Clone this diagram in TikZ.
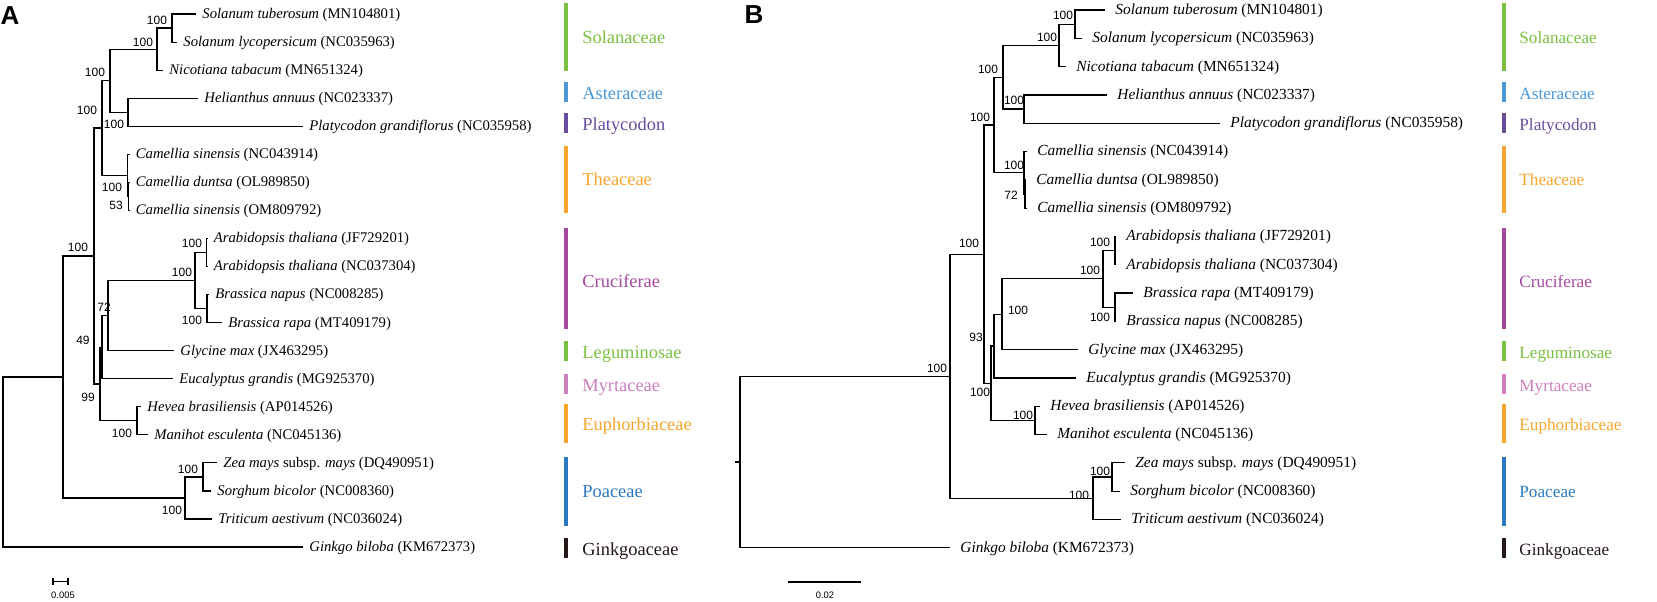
\documentclass[tikz,border=0pt]{standalone}
\usepackage{fontspec}
\setmainfont{Liberation Serif}
\setsansfont{Liberation Sans}
\usepackage{tikz}
\definecolor{solgreen}{RGB}{122, 193, 66}
\definecolor{astblue}{RGB}{74, 152, 214}
\definecolor{platpurple}{RGB}{106, 76, 156}
\definecolor{theaorange}{RGB}{247, 166, 45}
\definecolor{crucmagenta}{RGB}{166, 72, 158}
\definecolor{myrtpink}{RGB}{204, 128, 190}
\definecolor{poablue}{RGB}{43, 122, 192}
\definecolor{ginkgoblack}{RGB}{35, 24, 21}
\tikzset{
  branch/.style={line width=0.6pt},
  taxon/.style={anchor=west, inner ysep=0pt, inner xsep=3pt, text height=4.4pt, text depth=0pt, font=\fontsize{7.35}{8}\selectfont},
  boot/.style={inner sep=0pt, font=\sffamily\fontsize{6}{7}\selectfont},
  fam/.style={anchor=west, inner sep=0pt, text height=6pt, text depth=0pt, font=\fontsize{9.2}{10}\selectfont},
  bar/.style={line width=2.4pt},
  panel/.style={inner sep=0pt, font=\sffamily\bfseries\fontsize{13}{14}\selectfont},
  scalelbl/.style={inner sep=0pt, font=\sffamily\fontsize{4.7}{5}\selectfont}
}
\begin{document}
\begin{tikzpicture}[x=0.5pt, y=-0.5pt]
  \useasboundingbox (0,0) rectangle (1657,601);

  % ---------------- Panel A ----------------
  \node[panel] (panelA) at (10,16) {A};

  % Taxa
  \node[taxon] (solTubA) at (196,14.0) {\textit{Solanum tuberosum} (MN104801)};
  \node[taxon] (solLycA) at (177,42.1) {\textit{Solanum lycopersicum} (NC035963)};
  \node[taxon] (nicTabA) at (163,70.1) {\textit{Nicotiana tabacum} (MN651324)};
  \node[taxon] (helAnnA) at (198,98.2) {\textit{Helianthus annuus} (NC023337)};
  \node[taxon] (platGraA) at (303,126.2) {\textit{Platycodon grandiflorus} (NC035958)};
  \node[taxon] (camSinA) at (129.5,154.3) {\textit{Camellia sinensis} (NC043914)};
  \node[taxon] (camDunA) at (129.5,182.3) {\textit{Camellia duntsa} (OL989850)};
  \node[taxon] (camOmA) at (129.5,210.4) {\textit{Camellia sinensis} (OM809792)};
  \node[taxon] (araJfA) at (207.5,238.4) {\textit{Arabidopsis thaliana} (JF729201)};
  \node[taxon] (araNcA) at (207.5,266.5) {\textit{Arabidopsis thaliana} (NC037304)};
  \node[taxon] (braNapA) at (209,294.5) {\textit{Brassica napus} (NC008285)};
  \node[taxon] (braRapA) at (222,322.6) {\textit{Brassica rapa} (MT409179)};
  \node[taxon] (glyMaxA) at (174,350.6) {\textit{Glycine max} (JX463295)};
  \node[taxon] (eucGraA) at (173,378.7) {\textit{Eucalyptus grandis} (MG925370)};
  \node[taxon] (hevBraA) at (141,406.7) {\textit{Hevea brasiliensis} (AP014526)};
  \node[taxon] (manEscA) at (148,434.8) {\textit{Manihot esculenta} (NC045136)};
  \node[taxon] (zeaMayA) at (217,462.8) {\textit{Zea mays} subsp. \textit{mays} (DQ490951)};
  \node[taxon] (sorBicA) at (211,490.9) {\textit{Sorghum bicolor} (NC008360)};
  \node[taxon] (triAesA) at (212,518.9) {\textit{Triticum aestivum} (NC036024)};
  \node[taxon] (ginBilA) at (303,547.0) {\textit{Ginkgo biloba} (KM672373)};

  % Internal nodes
  \coordinate (nA1) at (172,28.05);
  \coordinate (nA2) at (157,49.1);
  \coordinate (nA3) at (128,112.2);
  \coordinate (nA4) at (110,80.6);
  \coordinate (nA5) at (128.5,196.4);
  \coordinate (nA6) at (127.5,175.3);
  \coordinate (nA7) at (102,128);
  \coordinate (nA8) at (206.5,252.5);
  \coordinate (nA9) at (207,308.5);
  \coordinate (nA10) at (195,280.5);
  \coordinate (nA11) at (108,315.6);
  \coordinate (nA12) at (102,347.1);
  \coordinate (nA13) at (137,420.8);
  \coordinate (nA14) at (100,384);
  \coordinate (nA15) at (94,256);
  \coordinate (nA16) at (203,476.9);
  \coordinate (nA17) at (185,497.9);
  \coordinate (nA18) at (63,377);
  \coordinate (nA19) at (3,462);

  % Branches
  \draw[branch] (nA1) |- (solTubA.west) (nA1) |- (solLycA.west);
  \draw[branch] (nA2) |- (nA1) (nA2) |- (nicTabA.west);
  \draw[branch] (nA3) |- (helAnnA.west) (nA3) |- (platGraA.west);
  \draw[branch] (nA4) |- (nA2) (nA4) |- (nA3);
  \draw[branch] (nA5) |- (camDunA.west) (nA5) |- (camOmA.west);
  \draw[branch] (nA6) |- (camSinA.west) (nA6) |- (nA5);
  \draw[branch] (nA7) |- (nA4) (nA7) |- (nA6);
  \draw[branch] (nA8) |- (araJfA.west) (nA8) |- (araNcA.west);
  \draw[branch] (nA9) |- (braNapA.west) (nA9) |- (braRapA.west);
  \draw[branch] (nA10) |- (nA8) (nA10) |- (nA9);
  \draw[branch] (nA11) |- (nA10) (nA11) |- (glyMaxA.west);
  \draw[branch] (nA12) |- (nA11) (nA12) |- (eucGraA.west);
  \draw[branch] (nA13) |- (hevBraA.west) (nA13) |- (manEscA.west);
  \draw[branch] (nA14) |- (nA12) (nA14) |- (nA13);
  \draw[branch] (nA15) |- (nA7) (nA15) |- (nA14);
  \draw[branch] (nA16) |- (zeaMayA.west) (nA16) |- (sorBicA.west);
  \draw[branch] (nA17) |- (nA16) (nA17) |- (triAesA.west);
  \draw[branch] (nA18) |- (nA15) (nA18) |- (nA17);
  \draw[branch] (nA19) |- (nA18) (nA19) |- (ginBilA.west);

  % Bootstrap values
  \node[boot] (bA1) at (157,20) {100};
  \node[boot] (bA2) at (143,42) {100};
  \node[boot] (bA4) at (95,72) {100};
  \node[boot] (bA7) at (87,110) {100};
  \node[boot] (bA3) at (114,124) {100};
  \node[boot] (bA6) at (112,187) {100};
  \node[boot] (bA5) at (116,205) {53};
  \node[boot] (bA8) at (192,243) {100};
  \node[boot] (bA15) at (78,247) {100};
  \node[boot] (bA10) at (182,272) {100};
  \node[boot] (bA11) at (104,307) {72};
  \node[boot] (bA9) at (192,320) {100};
  \node[boot] (bA12) at (83,340) {49};
  \node[boot] (bA14) at (88,397) {99};
  \node[boot] (bA13) at (122,433) {100};
  \node[boot] (bA16) at (188,469) {100};
  \node[boot] (bA17) at (172,510) {100};

  % Scale bar
  \draw[branch] (53,578) -- (53,585) (53,581.5) -- (68,581.5) (68,578) -- (68,585);
  \node[scalelbl] (scaleA) at (63,595) {0.005};

  % Families
  \draw[bar, solgreen] (566,3) -- (566,71);
  \draw[bar, astblue] (566,82) -- (566,102);
  \draw[bar, platpurple] (566,113) -- (566,133);
  \draw[bar, theaorange] (566,146) -- (566,213);
  \draw[bar, crucmagenta] (566,228) -- (566,329);
  \draw[bar, solgreen] (566,341) -- (566,361);
  \draw[bar, myrtpink] (566,374) -- (566,394);
  \draw[bar, theaorange] (566,404) -- (566,443);
  \draw[bar, poablue] (566,457) -- (566,526);
  \draw[bar, ginkgoblack] (566,538) -- (566,558);
  \node[fam, text=solgreen] (famSolA) at (582,37) {Solanaceae};
  \node[fam, text=astblue] (famAstA) at (582,93) {Asteraceae};
  \node[fam, text=platpurple] (famPlaA) at (582,124) {Platycodon};
  \node[fam, text=theaorange] (famTheA) at (582,179) {Theaceae};
  \node[fam, text=crucmagenta] (famCruA) at (582,281) {Cruciferae};
  \node[fam, text=solgreen] (famLegA) at (582,352) {Leguminosae};
  \node[fam, text=myrtpink] (famMyrA) at (582,385) {Myrtaceae};
  \node[fam, text=theaorange] (famEupA) at (582,424) {Euphorbiaceae};
  \node[fam, text=poablue] (famPoaA) at (582,491) {Poaceae};
  \node[fam, text=ginkgoblack] (famGinA) at (582,549) {Ginkgoaceae};

  % ---------------- Panel B ----------------
  \node[panel] (panelB) at (754,15) {B};

  \begin{scope}[taxon/.append style={inner xsep=5pt, font=\fontsize{7.7}{8}\selectfont},
                fam/.append style={font=\fontsize{8.6}{9}\selectfont}]
  % Taxa
  \node[taxon] (solTubB) at (1105,10) {\textit{Solanum tuberosum} (MN104801)};
  \node[taxon] (solLycB) at (1082,38.3) {\textit{Solanum lycopersicum} (NC035963)};
  \node[taxon] (nicTabB) at (1066,66.6) {\textit{Nicotiana tabacum} (MN651324)};
  \node[taxon] (helAnnB) at (1107,94.9) {\textit{Helianthus annuus} (NC023337)};
  \node[taxon] (platGraB) at (1220,123.2) {\textit{Platycodon grandiflorus} (NC035958)};
  \node[taxon] (camSinB) at (1027,151.5) {\textit{Camellia sinensis} (NC043914)};
  \node[taxon] (camDunB) at (1026,179.8) {\textit{Camellia duntsa} (OL989850)};
  \node[taxon] (camOmB) at (1027,208.1) {\textit{Camellia sinensis} (OM809792)};
  \node[taxon] (araJfB) at (1116,236.4) {\textit{Arabidopsis thaliana} (JF729201)};
  \node[taxon] (araNcB) at (1116,264.7) {\textit{Arabidopsis thaliana} (NC037304)};
  \node[taxon] (braRapB) at (1133,293) {\textit{Brassica rapa} (MT409179)};
  \node[taxon] (braNapB) at (1116,321.3) {\textit{Brassica napus} (NC008285)};
  \node[taxon] (glyMaxB) at (1078,349.6) {\textit{Glycine max} (JX463295)};
  \node[taxon] (eucGraB) at (1076,377.9) {\textit{Eucalyptus grandis} (MG925370)};
  \node[taxon] (hevBraB) at (1040,406.2) {\textit{Hevea brasiliensis} (AP014526)};
  \node[taxon] (manEscB) at (1047,434.5) {\textit{Manihot esculenta} (NC045136)};
  \node[taxon] (zeaMayB) at (1125,462.8) {\textit{Zea mays} subsp. \textit{mays} (DQ490951)};
  \node[taxon] (sorBicB) at (1120,491.1) {\textit{Sorghum bicolor} (NC008360)};
  \node[taxon] (triAesB) at (1121,519.4) {\textit{Triticum aestivum} (NC036024)};
  \node[taxon] (ginBilB) at (950,547.7) {\textit{Ginkgo biloba} (KM672373)};

  % Families
  \draw[bar, solgreen] (1504,3) -- (1504,71);
  \draw[bar, astblue] (1504,82) -- (1504,102);
  \draw[bar, platpurple] (1504,113) -- (1504,133);
  \draw[bar, theaorange] (1504,146) -- (1504,213);
  \draw[bar, crucmagenta] (1504,228) -- (1504,329);
  \draw[bar, solgreen] (1504,341) -- (1504,361);
  \draw[bar, myrtpink] (1504,374) -- (1504,394);
  \draw[bar, theaorange] (1504,404) -- (1504,443);
  \draw[bar, poablue] (1504,457) -- (1504,526);
  \draw[bar, ginkgoblack] (1504,538) -- (1504,558);
  \node[fam, text=solgreen] (famSolB) at (1519,37) {Solanaceae};
  \node[fam, text=astblue] (famAstB) at (1519,93) {Asteraceae};
  \node[fam, text=platpurple] (famPlaB) at (1519,124) {Platycodon};
  \node[fam, text=theaorange] (famTheB) at (1519,179) {Theaceae};
  \node[fam, text=crucmagenta] (famCruB) at (1519,281) {Cruciferae};
  \node[fam, text=solgreen] (famLegB) at (1519,352) {Leguminosae};
  \node[fam, text=myrtpink] (famMyrB) at (1519,385) {Myrtaceae};
  \node[fam, text=theaorange] (famEupB) at (1519,424) {Euphorbiaceae};
  \node[fam, text=poablue] (famPoaB) at (1519,491) {Poaceae};
  \node[fam, text=ginkgoblack] (famGinB) at (1519,549) {Ginkgoaceae};
  \end{scope}

  % Internal nodes
  \coordinate (nB1) at (1075,24.2);
  \coordinate (nB2) at (1059,45.4);
  \coordinate (nB3) at (1024,109);
  \coordinate (nB4) at (1003,77.2);
  \coordinate (nB5) at (1025,194);
  \coordinate (nB6) at (1024,172.7);
  \coordinate (nB7) at (994,125);
  \coordinate (nB8) at (1115,250.5);
  \coordinate (nB9) at (1115,307.1);
  \coordinate (nB10) at (1103,278.8);
  \coordinate (nB11) at (1002,314.2);
  \coordinate (nB12) at (994,346);
  \coordinate (nB13) at (1035,420.3);
  \coordinate (nB14) at (991,383.2);
  \coordinate (nB15) at (984,254.1);
  \coordinate (nB16) at (1112,477);
  \coordinate (nB17) at (1093,498.2);
  \coordinate (nB18) at (950,376.1);
  \coordinate (nB19) at (740,461.9);
  \coordinate (rootB) at (735,461.9);

  % Branches
  \draw[branch] (nB1) |- (solTubB.west) (nB1) |- (solLycB.west);
  \draw[branch] (nB2) |- (nB1) (nB2) |- (nicTabB.west);
  \draw[branch] (nB3) |- (helAnnB.west) (nB3) |- (platGraB.west);
  \draw[branch] (nB4) |- (nB2) (nB4) |- (nB3);
  \draw[branch] (nB5) |- (camDunB.west) (nB5) |- (camOmB.west);
  \draw[branch] (nB6) |- (camSinB.west) (nB6) |- (nB5);
  \draw[branch] (nB7) |- (nB4) (nB7) |- (nB6);
  \draw[branch] (nB8) |- (araJfB.west) (nB8) |- (araNcB.west);
  \draw[branch] (nB9) |- (braRapB.west) (nB9) |- (braNapB.west);
  \draw[branch] (nB10) |- (nB8) (nB10) |- (nB9);
  \draw[branch] (nB11) |- (nB10) (nB11) |- (glyMaxB.west);
  \draw[branch] (nB12) |- (nB11) (nB12) |- (eucGraB.west);
  \draw[branch] (nB13) |- (hevBraB.west) (nB13) |- (manEscB.west);
  \draw[branch] (nB14) |- (nB12) (nB14) |- (nB13);
  \draw[branch] (nB15) |- (nB7) (nB15) |- (nB14);
  \draw[branch] (nB16) |- (zeaMayB.west) (nB16) |- (sorBicB.west);
  \draw[branch] (nB17) |- (nB16) (nB17) |- (triAesB.west);
  \draw[branch] (nB18) |- (nB15) (nB18) |- (nB17);
  \draw[branch] (nB19) |- (nB18) (nB19) |- (ginBilB.west);
  \draw[branch] (rootB) -- (nB19);

  % Bootstrap values
  \node[boot] (bB1) at (1063,15) {100};
  \node[boot] (bB2) at (1047,37) {100};
  \node[boot] (bB4) at (988,69) {100};
  \node[boot] (bB3) at (1014,100) {100};
  \node[boot] (bB7) at (980,117) {100};
  \node[boot] (bB6) at (1014,165) {100};
  \node[boot] (bB5) at (1011,195) {72};
  \node[boot] (bB8) at (1100,242) {100};
  \node[boot] (bB15) at (969,243) {100};
  \node[boot] (bB10) at (1090,270) {100};
  \node[boot] (bB11) at (1018,310) {100};
  \node[boot] (bB9) at (1100,317) {100};
  \node[boot] (bB12) at (976,337) {93};
  \node[boot] (bB18) at (937,368) {100};
  \node[boot] (bB14) at (980,392) {100};
  \node[boot] (bB13) at (1023,415) {100};
  \node[boot] (bB16) at (1100,471) {100};
  \node[boot] (bB17) at (1079,495) {100};

  % Scale bar
  \draw[branch] (788,582) -- (861,582);
  \node[scalelbl] (scaleB) at (825,595) {0.02};
\end{tikzpicture}
\end{document}
